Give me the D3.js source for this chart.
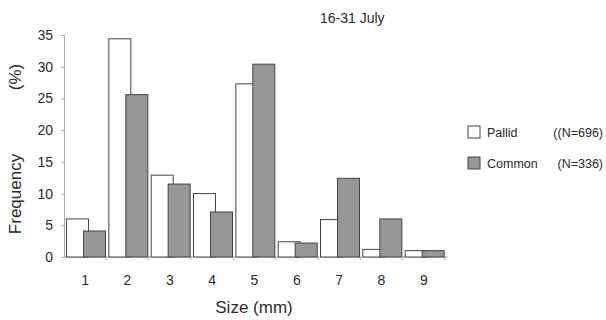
<!DOCTYPE html>
<html>
<head>
<meta charset="utf-8">
<script src="https://cdn.jsdelivr.net/npm/d3@7"></script>
<style>
  body { margin: 0; background: #fff; }
  text { font-family: "Liberation Sans", Arial, sans-serif; fill: #2a2a2a; }
</style>
</head>
<body>
<svg id="chart" width="606" height="320"></svg>
<script>
'use strict'

const sizes = ['1', '2', '3', '4', '5', '6', '7', '8', '9']
const pallid = [6.0, 34.4, 12.9, 10.0, 27.3, 2.4, 5.9, 1.2, 1.0]
const common = [4.1, 25.6, 11.5, 7.1, 30.4, 2.2, 12.4, 6.0, 1.0]
const yTicks = [0, 5, 10, 15, 20, 25, 30, 35]
const seriesNames = ['Pallid', 'Common']
const seriesN = ['((N=696)', '(N=336)']

const svg = d3.select('#chart')
const margin = { left: 64, right: 161, top: 35, bottom: 63 }
const width = 606 - margin.left - margin.right
const height = 320 - margin.top - margin.bottom

const x = d3.scaleBand().domain(sizes).range([0, width])
const y = d3.scaleLinear().domain([0, 35]).range([height, 0])

const g = svg.append('g').attr('transform', `translate(${margin.left},${margin.top})`)

// y axis
const yAxis = g.append('g')
  .call(d3.axisLeft(y).tickValues(yTicks).tickSize(3).tickPadding(8))
yAxis.select('.domain').attr('stroke', '#aaa')
yAxis.selectAll('.tick line').attr('stroke', '#aaa')
yAxis.selectAll('.tick text').attr('font-size', 14).attr('fill', '#2a2a2a')

// x axis with ticks at band boundaries
const xAxis = g.append('g').attr('transform', `translate(0,${height})`)
xAxis.append('line').attr('x1', 0).attr('x2', width + 3).attr('stroke', '#aaa')
xAxis.selectAll('.bt')
  .data(sizes)
  .join('line')
  .attr('x1', d => x(d) + x.bandwidth())
  .attr('x2', d => x(d) + x.bandwidth())
  .attr('y1', 0).attr('y2', 3).attr('stroke', '#aaa')
xAxis.selectAll('.lbl')
  .data(sizes)
  .join('text')
  .attr('x', d => x(d) + x.bandwidth() / 2)
  .attr('y', 28)
  .attr('text-anchor', 'middle')
  .attr('font-size', 14)
  .text(d => d)

// bars
const bw = 22
g.selectAll('.pallid')
  .data(pallid)
  .join('rect')
  .attr('x', (d, i) => x(sizes[i]) + 2.5)
  .attr('y', d => y(d))
  .attr('width', bw)
  .attr('height', d => y(0) - y(d))
  .attr('fill', '#fff')
  .attr('stroke', '#444')
  .attr('stroke-width', 1)

g.selectAll('.common')
  .data(common)
  .join('rect')
  .attr('x', (d, i) => x(sizes[i]) + 19.5)
  .attr('y', d => y(d))
  .attr('width', bw)
  .attr('height', d => y(0) - y(d))
  .attr('fill', '#979797')
  .attr('stroke', '#444')
  .attr('stroke-width', 1)

// axis titles
svg.append('text')
  .attr('transform', 'translate(21,194) rotate(-90)')
  .attr('text-anchor', 'middle')
  .attr('font-size', 17)
  .text('Frequency')
svg.append('text')
  .attr('transform', 'translate(21,77) rotate(-90)')
  .attr('text-anchor', 'middle')
  .attr('font-size', 17)
  .text('(%)')
svg.append('text')
  .attr('x', 254).attr('y', 313)
  .attr('text-anchor', 'middle')
  .attr('font-size', 17)
  .text('Size (mm)')
svg.append('text')
  .attr('x', 320).attr('y', 23)
  .attr('font-size', 14)
  .text('16-31 July')

// legend
const legend = svg.append('g').attr('transform', 'translate(468,126)')
const item = legend.selectAll('g')
  .data(seriesNames)
  .join('g')
  .attr('transform', (d, i) => `translate(0,${i * 31})`)
item.append('rect')
  .attr('width', 12).attr('height', 12)
  .attr('fill', (d, i) => i === 0 ? '#fff' : '#979797')
  .attr('stroke', '#444')
item.append('text')
  .attr('x', 19).attr('y', 11)
  .attr('font-size', 12.5)
  .text(d => d)
item.append('text')
  .attr('x', 135).attr('y', 11)
  .attr('text-anchor', 'end')
  .attr('font-size', 12.5)
  .text((d, i) => seriesN[i])
</script>
</body>
</html>
